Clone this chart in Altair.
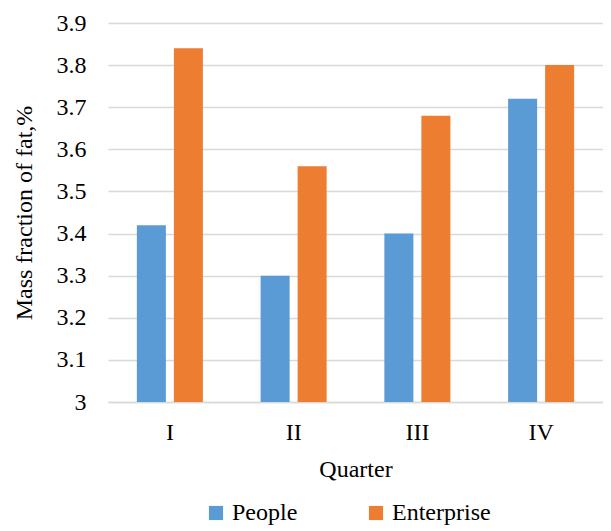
import altair as alt
import pandas as pd

quarters = ["I", "II", "III", "IV"]
people = [3.42, 3.30, 3.40, 3.72]
enterprise = [3.84, 3.56, 3.68, 3.80]
series = ["People", "Enterprise"]
colors = ["#5B9BD5", "#ED7D31"]

rows = []
for q, p, e in zip(quarters, people, enterprise):
    rows.append({"Quarter": q, "Series": "People", "Value": p})
    rows.append({"Quarter": q, "Series": "Enterprise", "Value": e})
df = pd.DataFrame(rows)

FONT = "'Liberation Serif', 'Times New Roman', serif"
FS = 24

chart = alt.Chart(df).mark_bar().encode(
    x=alt.X("Quarter:N", sort=quarters,
            scale=alt.Scale(paddingInner=0, paddingOuter=0),
            axis=alt.Axis(title="Quarter", labelAngle=0, ticks=False,
                          domainColor="#d9d9d9", domainWidth=1.5,
                          labelPadding=18, titlePadding=13)),
    xOffset=alt.XOffset("Series:N", sort=series,
                        scale=alt.Scale(paddingInner=0.216, paddingOuter=0.78)),
    y=alt.Y("Value:Q",
            scale=alt.Scale(domain=[3, 3.9], zero=False, nice=False),
            axis=alt.Axis(title="Mass fraction of fat,%",
                          values=[3.0, 3.1, 3.2, 3.3, 3.4, 3.5, 3.6, 3.7, 3.8, 3.9],
                          labelExpr="datum.value == 3 ? '3' : format(datum.value, '.1f')",
                          ticks=False, domain=False, gridColor="#d9d9d9", gridWidth=1.5,
                          labelPadding=22, titlePadding=20)),
    y2=alt.datum(3),
    color=alt.Color("Series:N", sort=series,
                    scale=alt.Scale(domain=series, range=colors),
                    legend=alt.Legend(title=None, orient="none", direction="horizontal",
                                      legendX=96, legendY=478,
                                      symbolType="square", symbolSize=200,
                                      symbolStrokeWidth=0, labelOffset=4,
                                      columnPadding=66, labelFontSize=FS,
                                      labelFont=FONT, labelColor="black")),
).properties(
    width=495, height=379,
    autosize=alt.AutoSizeParams(type="none"),
    padding={"left": 100, "top": 15, "right": 0, "bottom": 130},
).configure_view(stroke=None).configure_axis(
    labelFont=FONT, titleFont=FONT, labelFontSize=FS, titleFontSize=FS,
    labelColor="black", titleColor="black", titleFontWeight="normal"
).configure_legend(labelFont=FONT, labelFontSize=FS, labelColor="black")

chart.save("out.html", embed_options={"renderer": "svg", "actions": False})
